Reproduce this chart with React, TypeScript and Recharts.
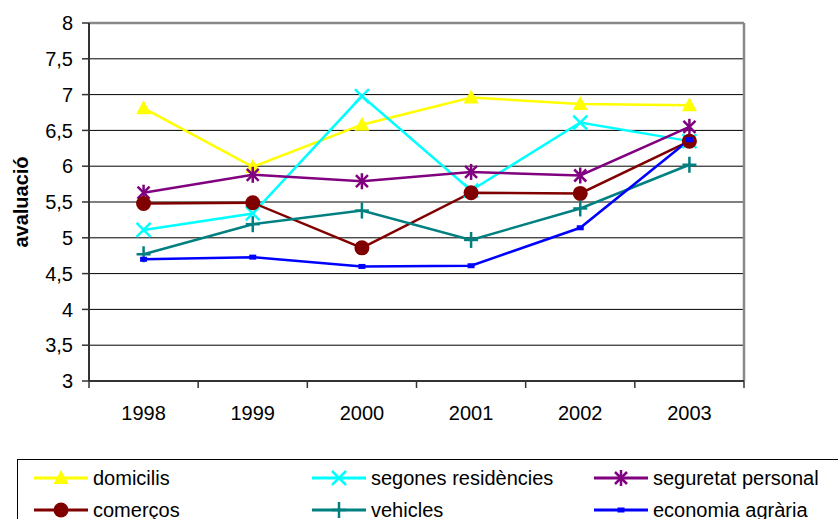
import React from 'react';
import { LineChart, Line, XAxis, YAxis, CartesianGrid, ReferenceLine } from 'recharts';

const years = ['1998', '1999', '2000', '2001', '2002', '2003'];
const domicilis = [6.81, 5.99, 6.58, 6.96, 6.87, 6.85];
const segones = [5.11, 5.34, 6.98, 5.66, 6.61, 6.35];
const seguretat = [5.63, 5.88, 5.79, 5.92, 5.87, 6.55];
const comercos = [5.48, 5.49, 4.86, 5.63, 5.62, 6.35];
const vehicles = [4.77, 5.19, 5.38, 4.97, 5.41, 6.02];
const economia = [4.7, 4.73, 4.6, 4.61, 5.14, 6.37];
const yTicks = [3, 3.5, 4, 4.5, 5, 5.5, 6, 6.5, 7, 7.5, 8];

const FONT = '"Liberation Sans", Arial, sans-serif';

type Marker = 'triangle' | 'x' | 'star' | 'circle' | 'plus' | 'square';

const drawMarker = (kind: Marker, cx: number, cy: number, color: string) => {
  switch (kind) {
    case 'triangle':
      return <polygon points={`${cx},${cy - 8} ${cx - 7.5},${cy + 6} ${cx + 7.5},${cy + 6}`} fill={color} />;
    case 'x':
      return (
        <g stroke={color} strokeWidth={2.5}>
          <line x1={cx - 7} y1={cy - 7} x2={cx + 7} y2={cy + 7} />
          <line x1={cx - 7} y1={cy + 7} x2={cx + 7} y2={cy - 7} />
        </g>
      );
    case 'star':
      return (
        <g stroke={color} strokeWidth={2.5}>
          <line x1={cx - 6} y1={cy - 6} x2={cx + 6} y2={cy + 6} />
          <line x1={cx - 6} y1={cy + 6} x2={cx + 6} y2={cy - 6} />
          <line x1={cx} y1={cy - 8} x2={cx} y2={cy + 8} />
        </g>
      );
    case 'circle':
      return <circle cx={cx} cy={cy} r={7.5} fill={color} />;
    case 'plus':
      return (
        <g stroke={color} strokeWidth={2.5}>
          <line x1={cx - 7} y1={cy} x2={cx + 7} y2={cy} />
          <line x1={cx} y1={cy - 8} x2={cx} y2={cy + 8} />
        </g>
      );
    default:
      return <rect x={cx - 3.5} y={cy - 2.5} width={7} height={5} fill={color} />;
  }
};

const series: { key: string; name: string; color: string; marker: Marker; values: number[] }[] = [
  { key: 'domicilis', name: 'domicilis', color: '#FFFF00', marker: 'triangle', values: domicilis },
  { key: 'segones', name: 'segones residències', color: '#00FFFF', marker: 'x', values: segones },
  { key: 'seguretat', name: 'seguretat personal', color: '#800080', marker: 'star', values: seguretat },
  { key: 'comercos', name: 'comerços', color: '#800000', marker: 'circle', values: comercos },
  { key: 'vehicles', name: 'vehicles', color: '#008080', marker: 'plus', values: vehicles },
  { key: 'economia', name: 'economia agrària', color: '#0000FF', marker: 'square', values: economia },
];

const data = years.map((year, i) => {
  const row: Record<string, number | string> = { x: i + 0.5, year };
  series.forEach((s) => {
    row[s.key] = s.values[i];
  });
  return row;
});

const YLabel = (props: any) => {
  const vb = props.viewBox || { y: 23, height: 358 };
  const cy = vb.y + vb.height / 2;
  return (
    <text
      x={28}
      y={cy}
      transform={`rotate(-90, 28, ${cy})`}
      textAnchor="middle"
      fontFamily={FONT}
      fontSize={20}
      fontWeight="bold"
      fill="#000"
    >
      avaluació
    </text>
  );
};

const Legend = () => (
  <div
    style={{
      position: 'absolute',
      left: 17,
      top: 459,
      width: 840,
      height: 80,
      border: '1px solid #000',
      boxSizing: 'border-box',
      fontFamily: FONT,
      fontSize: 20,
      color: '#000',
    }}
  >
    {series.map((s, i) => {
      const col = i % 3;
      const row = Math.floor(i / 3);
      const left = [16, 294, 576][col];
      return (
        <div
          key={s.key}
          style={{ position: 'absolute', left, top: 6 + row * 32, height: 24, display: 'flex', alignItems: 'center' }}
        >
          <svg width={54} height={24} style={{ display: 'block' }}>
            <line x1={0} y1={12} x2={54} y2={12} stroke={s.color} strokeWidth={3} />
            {drawMarker(s.marker, 27, 12, s.color)}
          </svg>
          <span style={{ marginLeft: 5, lineHeight: '24px', whiteSpace: 'nowrap' }}>{s.name}</span>
        </div>
      );
    })}
  </div>
);

export default function App() {
  return (
    <div style={{ position: 'absolute', left: 0, top: 0, width: 838, height: 519, background: '#fff', overflow: 'hidden' }}>
      <LineChart width={838} height={519} data={data} margin={{ top: 23, right: 94, bottom: 98, left: 19 }}>
        <CartesianGrid vertical={false} stroke="#000" strokeWidth={1} xAxisId="grid" />
        <XAxis
          xAxisId="grid"
          type="number"
          dataKey="x"
          domain={[0, 6]}
          ticks={[0, 1, 2, 3, 4, 5, 6]}
          tickFormatter={() => ' '}
          height={8}
          tickSize={7}
          interval={0}
          axisLine={{ stroke: '#333', strokeWidth: 2 }}
          tickLine={{ stroke: '#333', strokeWidth: 1.5 }}
        />
        <XAxis
          xAxisId="labels"
          type="number"
          dataKey="x"
          domain={[0, 6]}
          ticks={years.map((_, i) => i + 0.5)}
          tickFormatter={(v: number) => years[Math.floor(v)]}
          height={32}
          interval={0}
          axisLine={false}
          tickLine={false}
          tickMargin={11}
          tick={{ fontFamily: FONT, fontSize: 20, fill: '#000' }}
        />
        <YAxis
          type="number"
          domain={[3, 8]}
          ticks={yTicks}
          width={70}
          tickSize={7}
          tickMargin={9}
          interval={0}
          tickFormatter={(v: number) => String(v).replace('.', ',')}
          axisLine={{ stroke: '#333', strokeWidth: 2 }}
          tickLine={{ stroke: '#333', strokeWidth: 1.5 }}
          tick={{ fontFamily: FONT, fontSize: 20, fill: '#000' }}
          label={<YLabel />}
        />
        <ReferenceLine y={8} xAxisId="grid" stroke="#888" strokeWidth={2.5} />
        <ReferenceLine x={6} xAxisId="grid" stroke="#888" strokeWidth={2.5} />
        {series.map((s) => (
          <Line
            key={s.key}
            xAxisId="grid"
            dataKey={s.key}
            name={s.name}
            stroke={s.color}
            strokeWidth={2.5}
            isAnimationActive={false}
            activeDot={false}
            dot={(p: any) => <g key={`${s.key}-${p.index}`}>{drawMarker(s.marker, p.cx, p.cy, s.color)}</g>}
          />
        ))}
      </LineChart>
      <Legend />
    </div>
  );
}
